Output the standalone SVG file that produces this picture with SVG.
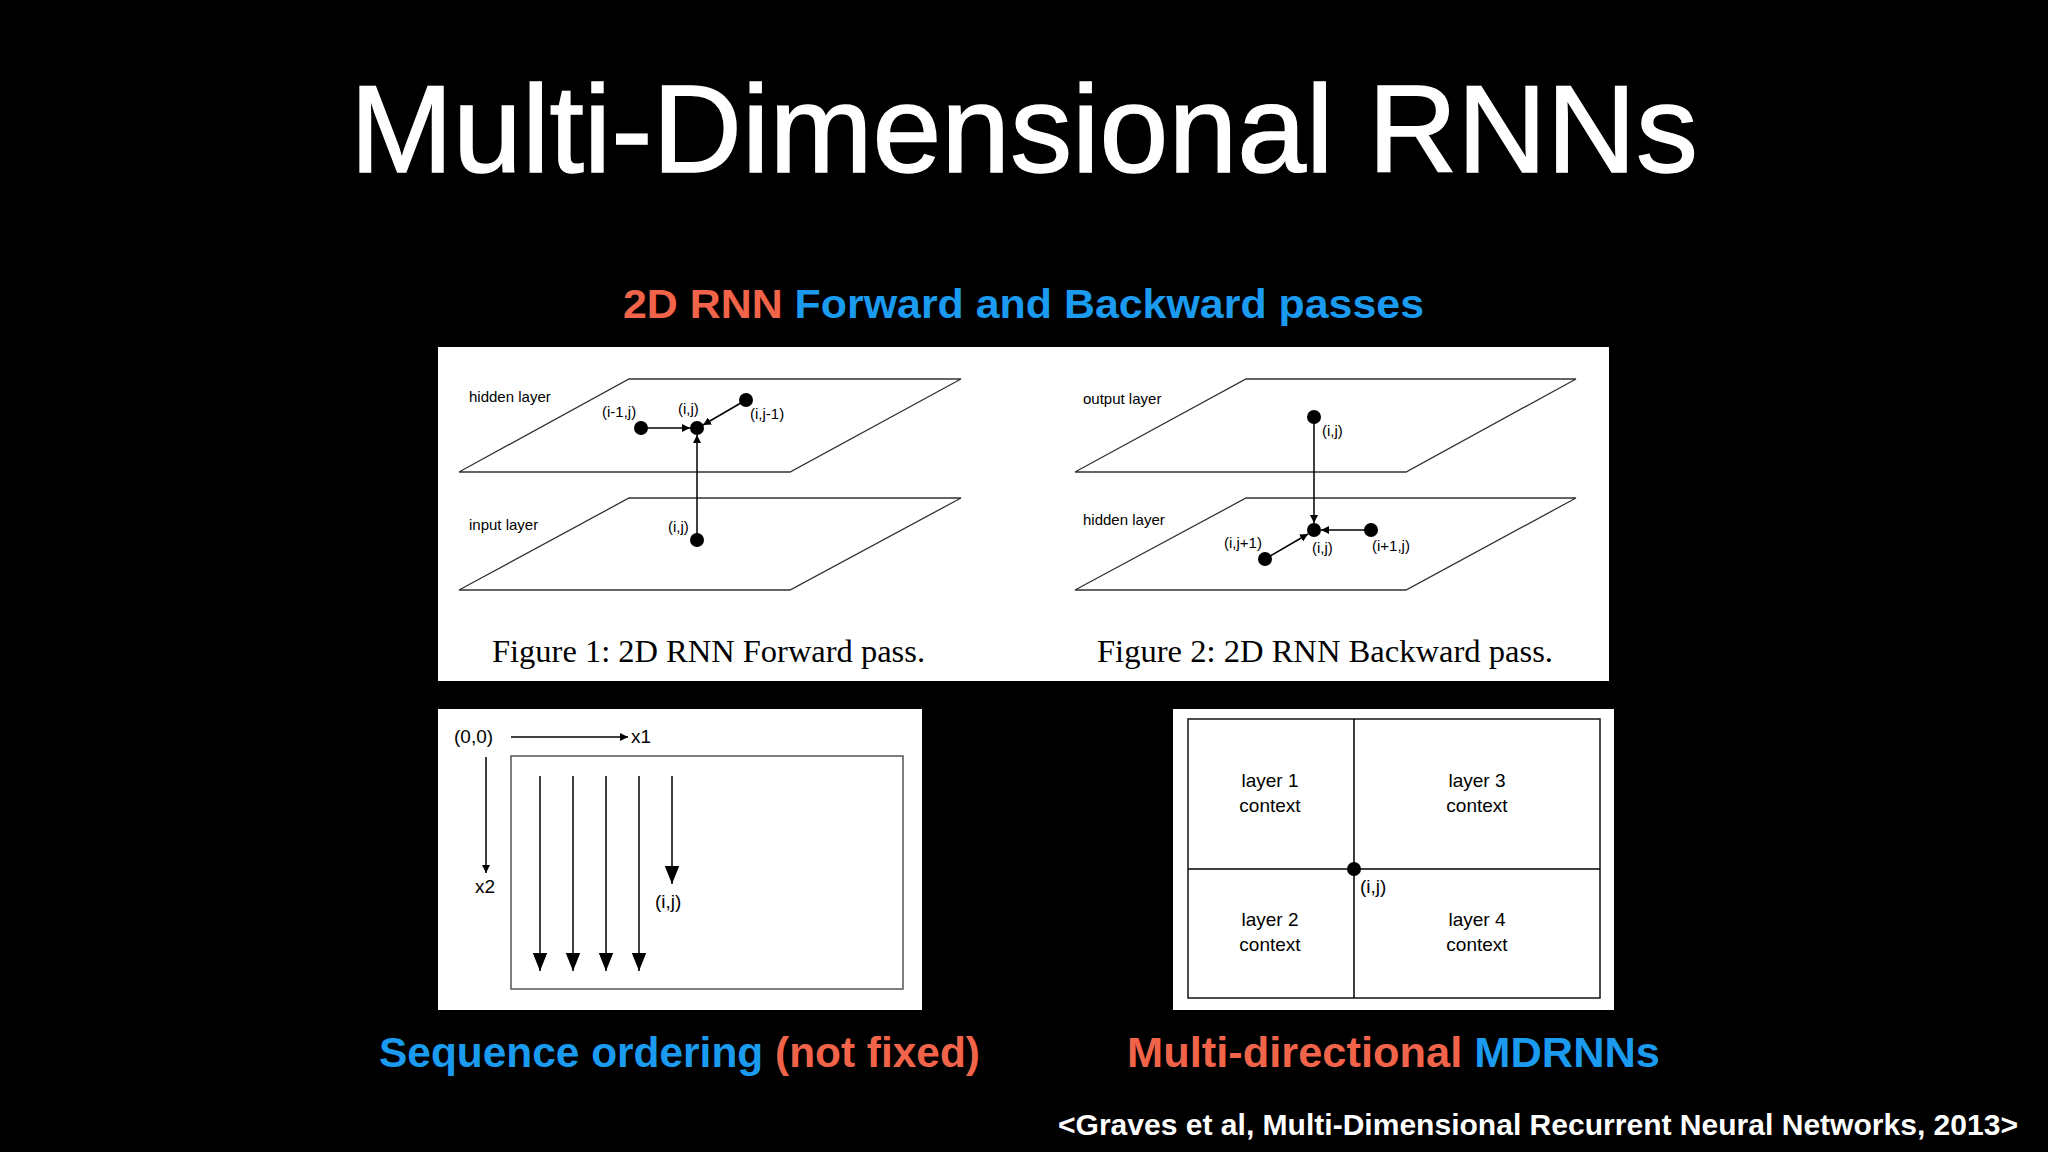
<svg xmlns="http://www.w3.org/2000/svg" width="2048" height="1152" viewBox="0 0 2048 1152">
<style>
.s{font-family:"Liberation Sans",Arial,sans-serif}
.b{font-family:"Liberation Sans",Arial,sans-serif;font-weight:bold}
.sm{font-family:"Liberation Sans",Arial,sans-serif;font-size:15px;fill:#000}
.md{font-family:"Liberation Sans",Arial,sans-serif;font-size:19px;fill:#000}
.cap{font-family:"Liberation Serif","Times New Roman",serif;font-size:32px;fill:#000}
.pl{fill:none;stroke:#333;stroke-width:1.3}
.ln{stroke:#000;stroke-width:1.5;fill:none}
.r{fill:#f26449}.bl{fill:#1a9bf0}
</style>
<defs>
<marker id="ah" viewBox="0 0 10 10" refX="10" refY="5" markerWidth="8" markerHeight="8" markerUnits="userSpaceOnUse" orient="auto"><path d="M0,0L10,5L0,10z" fill="#000"/></marker>
<marker id="ah2" viewBox="0 0 10 10" refX="10" refY="5" markerWidth="18" markerHeight="18" markerUnits="userSpaceOnUse" orient="auto"><path d="M0,1L10,5L0,9z" fill="#000"/></marker>
</defs>
<rect width="2048" height="1152" fill="#000"/>
<text class="s" x="1024" y="172" text-anchor="middle" font-size="124" fill="#fff" stroke="#fff" stroke-width="1.5" textLength="1348" lengthAdjust="spacingAndGlyphs">Multi-Dimensional RNNs</text>
<text class="b" x="623" y="318" font-size="40" textLength="801" lengthAdjust="spacingAndGlyphs"><tspan class="r">2D RNN </tspan><tspan class="bl">Forward and Backward passes</tspan></text>

<g id="fig12">
<rect x="438" y="347" width="1171" height="334" fill="#fff"/>
<polygon class="pl" points="459,472 629,379 961,379 790,472"/>
<polygon class="pl" points="459,590 629,498 961,498 790,590"/>
<polygon class="pl" points="1075,472 1246,379 1576,379 1406,472"/>
<polygon class="pl" points="1075,590 1246,498 1576,498 1406,590"/>
<text class="sm" x="469" y="402">hidden layer</text>
<text class="sm" x="469" y="530">input layer</text>
<text class="sm" x="1083" y="404">output layer</text>
<text class="sm" x="1083" y="525">hidden layer</text>
<g class="ln">
<line x1="641" y1="428" x2="690" y2="428" marker-end="url(#ah)"/>
<line x1="746" y1="400" x2="703" y2="425" marker-end="url(#ah)"/>
<line x1="697" y1="540" x2="697" y2="435" marker-end="url(#ah)"/>
<line x1="1314" y1="417" x2="1314" y2="523" marker-end="url(#ah)"/>
<line x1="1371" y1="530" x2="1321" y2="530" marker-end="url(#ah)"/>
<line x1="1265" y1="559" x2="1308" y2="534" marker-end="url(#ah)"/>
</g>
<g fill="#000">
<circle cx="641" cy="428" r="7"/><circle cx="697" cy="428" r="7"/><circle cx="746" cy="400" r="7"/><circle cx="697" cy="540" r="7"/>
<circle cx="1314" cy="417" r="7"/><circle cx="1314" cy="530" r="7"/><circle cx="1371" cy="530" r="7"/><circle cx="1265" cy="559" r="7"/>
</g>
<text class="sm" x="602" y="417">(i-1,j)</text>
<text class="sm" x="678" y="414">(i,j)</text>
<text class="sm" x="750" y="419">(i,j-1)</text>
<text class="sm" x="668" y="532">(i,j)</text>
<text class="sm" x="1322" y="436">(i,j)</text>
<text class="sm" x="1224" y="548">(i,j+1)</text>
<text class="sm" x="1312" y="553">(i,j)</text>
<text class="sm" x="1372" y="551">(i+1,j)</text>
<text class="cap" x="492" y="662" textLength="433" lengthAdjust="spacingAndGlyphs">Figure 1: 2D RNN Forward pass.</text>
<text class="cap" x="1097" y="662" textLength="456" lengthAdjust="spacingAndGlyphs">Figure 2: 2D RNN Backward pass.</text>
</g>

<g id="seq">
<rect x="438" y="709" width="484" height="301" fill="#fff"/>
<rect x="511" y="756" width="392" height="233" fill="none" stroke="#555" stroke-width="1.5"/>
<text class="md" x="454" y="743">(0,0)</text>
<line class="ln" x1="511" y1="737" x2="628" y2="737" marker-end="url(#ah)"/>
<text class="md" x="631" y="743">x1</text>
<line class="ln" x1="486" y1="757" x2="486" y2="873" marker-end="url(#ah)"/>
<text class="md" x="475" y="893">x2</text>
<g class="ln">
<line x1="540" y1="776" x2="540" y2="971" marker-end="url(#ah2)"/>
<line x1="573" y1="776" x2="573" y2="971" marker-end="url(#ah2)"/>
<line x1="606" y1="776" x2="606" y2="971" marker-end="url(#ah2)"/>
<line x1="639" y1="776" x2="639" y2="971" marker-end="url(#ah2)"/>
<line x1="672" y1="776" x2="672" y2="884" marker-end="url(#ah2)"/>
</g>
<text class="md" x="655" y="908">(i,j)</text>
</g>

<g id="multi">
<rect x="1173" y="709" width="441" height="301" fill="#fff"/>
<rect x="1188" y="719" width="412" height="279" fill="none" stroke="#222" stroke-width="1.6"/>
<line class="ln" x1="1354" y1="719" x2="1354" y2="998" stroke-width="1.2"/>
<line class="ln" x1="1188" y1="869" x2="1600" y2="869" stroke-width="1.2"/>
<circle cx="1354" cy="869" r="7" fill="#000"/>
<text class="md" x="1360" y="893">(i,j)</text>
<g class="md" text-anchor="middle">
<text x="1270" y="787">layer 1</text><text x="1270" y="812">context</text>
<text x="1477" y="787">layer 3</text><text x="1477" y="812">context</text>
<text x="1270" y="926">layer 2</text><text x="1270" y="951">context</text>
<text x="1477" y="926">layer 4</text><text x="1477" y="951">context</text>
</g>
</g>

<text class="b" x="379" y="1067" font-size="42" textLength="601" lengthAdjust="spacingAndGlyphs"><tspan class="bl">Sequence ordering </tspan><tspan class="r">(not fixed)</tspan></text>
<text class="b" x="1127" y="1067" font-size="42" textLength="533" lengthAdjust="spacingAndGlyphs"><tspan class="r">Multi-directional </tspan><tspan class="bl">MDRNNs</tspan></text>
<text class="b" x="1058" y="1135" font-size="29" fill="#fff" textLength="960" lengthAdjust="spacingAndGlyphs">&lt;Graves et al, Multi-Dimensional Recurrent Neural Networks, 2013&gt;</text>
</svg>
